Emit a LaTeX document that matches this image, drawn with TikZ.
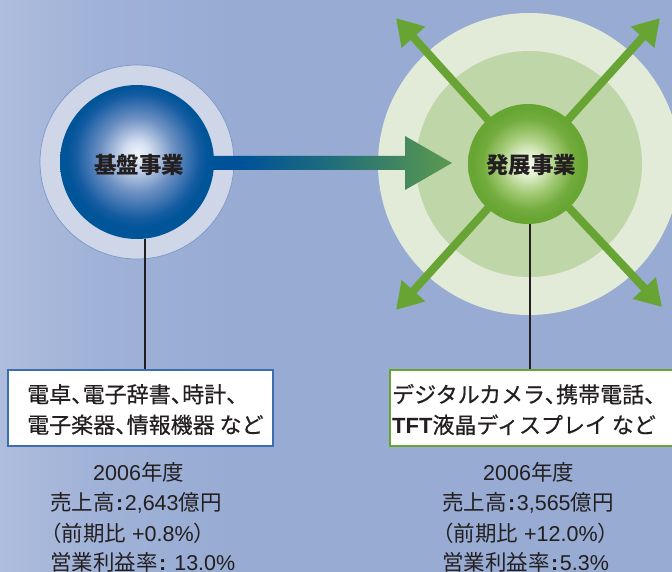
\documentclass[tikz,border=0pt]{standalone}
\usepackage{fontspec}
\setmainfont{Liberation Sans}
\newfontfamily\jp{Noto Sans CJK JP}
\newfontfamily\jpm[FakeBold=0.5]{Noto Sans CJK JP}
\usetikzlibrary{arrows.meta}
\newcommand{\jt}[1]{{\jp #1}}
\newcommand{\jtm}[1]{{\jpm #1}}
\newcommand{\tc}{、\hspace{-10.5pt}}
\definecolor{bgl}{RGB}{174,189,221}
\definecolor{bgm}{RGB}{160,178,215}
\definecolor{bgr}{RGB}{151,171,211}
\definecolor{lringc}{RGB}{206,214,232}
\definecolor{lringb}{RGB}{125,152,200}
\definecolor{routc}{RGB}{226,234,216}
\definecolor{rmidc}{RGB}{191,214,169}
\definecolor{agreen}{RGB}{104,164,52}
\definecolor{arA}{RGB}{0,82,152}
\definecolor{arB}{RGB}{35,112,120}
\definecolor{arC}{RGB}{92,154,76}
\definecolor{bb0}{RGB}{240,243,250}
\definecolor{bb1}{RGB}{212,222,240}
\definecolor{bb2}{RGB}{110,145,195}
\definecolor{bb3}{RGB}{22,92,162}
\definecolor{bb4}{RGB}{0,84,152}
\definecolor{gb0}{RGB}{248,250,240}
\definecolor{gb1}{RGB}{225,238,205}
\definecolor{gb2}{RGB}{165,203,120}
\definecolor{gb3}{RGB}{115,172,62}
\definecolor{gb4}{RGB}{104,166,52}
\definecolor{txt}{RGB}{35,31,32}
\definecolor{lboxb}{RGB}{60,110,175}
\pgfdeclarehorizontalshading{bgshade}{100bp}{color(0bp)=(bgl); color(25bp)=(bgl); color(32bp)=(bgm); color(43bp)=(bgr); color(100bp)=(bgr)}
\pgfdeclarehorizontalshading{arrowshade}{100bp}{color(0bp)=(arA); color(25bp)=(arA); color(42bp)=(arA); color(57bp)=(arB); color(75bp)=(arC); color(100bp)=(arC)}
\pgfdeclareradialshading{bball}{\pgfpoint{0bp}{3bp}}{color(0bp)=(bb0); color(4bp)=(bb1); color(12bp)=(bb2); color(20bp)=(bb3); color(23bp)=(bb4); color(50bp)=(bb4)}
\pgfdeclareradialshading{gball}{\pgfpoint{0bp}{0bp}}{color(0bp)=(gb0); color(5bp)=(gb1); color(12bp)=(gb2); color(19bp)=(gb3); color(23bp)=(gb4); color(50bp)=(gb4)}
\begin{document}
\begin{tikzpicture}[x=1pt,y=-1pt,
  ring/.style={circle, inner sep=0pt},
  garrow/.style={draw=agreen, line width=8pt, -{Triangle[length=26pt,width=30pt]}},
  conn/.style={draw=txt, line width=1.5pt},
  boxstyle/.style={fill=white, line width=1.1pt, minimum width=#1, minimum height=76pt, inner sep=0pt},
  boxtext/.style={anchor=west, align=left, text=txt, inner sep=0pt, font=\fontsize{22}{30.5}\selectfont},
  figtext/.style={anchor=west, text=txt, inner sep=0pt, font=\fontsize{21.5}{26}\selectfont},
  balllabel/.style={text=txt, font=\jp\bfseries\fontsize{22.5}{26}\selectfont}
]
\useasboundingbox (0,0) rectangle (672,572);
\begin{scope}
\clip (0,0) rectangle (672,572);
\shade[shading=bgshade] (0,0) rectangle (672,572);

% rings
\node[ring, minimum size=194pt, fill=lringc, draw=lringb, line width=0.7pt] (lring) at (137,162) {};
\node[ring, minimum size=302pt, fill=routc] (rout) at (529,164) {};
\node[ring, minimum size=226pt, fill=rmidc] (rmid) at (529,164) {};

% diagonal arrows
\coordinate (tl) at (396,18);
\coordinate (tr) at (660,18);
\coordinate (bl) at (396,310);
\coordinate (br) at (662,307);
\coordinate (gc) at (528,164);
\draw[garrow] (gc) -- (tl);
\draw[garrow] (gc) -- (tr);
\draw[garrow] (gc) -- (bl);
\draw[garrow] (gc) -- (br);

% main arrow
\coordinate (lc) at (137,163);
\coordinate (mtip) at (452,163);
\shade[shading=arrowshade] ([yshift=7pt]lc) -- ([xshift=-47pt,yshift=7pt]mtip) -- ([xshift=-47pt,yshift=27pt]mtip) -- (mtip) -- ([xshift=-47pt,yshift=-27pt]mtip) -- ([xshift=-47pt,yshift=-7pt]mtip) -- ([yshift=-7pt]lc) -- cycle;

% balls
\node[ring, minimum size=154pt, shading=bball] (lball) at (137,162) {};
\node[ring, minimum size=120pt, shading=gball] (gball) at (528,164) {};
\node[balllabel] (llab) at (139,165) {基盤事業};
\node[balllabel] (rlab) at (531,165) {発展事業};

% boxes
\node[boxstyle=265pt, draw=lboxb] (lbox) at (140.5,408) {};
\node[boxstyle=300pt, draw=agreen] (rbox) at (540,408) {};
\node[boxtext] (ltxt) at (27,409.5) {\jtm{電卓\tc 電子辞書\tc 時計、}\\\jtm{電子楽器\tc 情報機器 など}};
\node[boxtext] (rtxt) at (392,409.5) {\jtm{デジタルカメラ\tc 携帯電話、}\\{\bfseries TFT}\jtm{液晶ディスプレイ など}};

% connectors
\draw[conn] (lball.-84) -- (lball.-84 |- lbox.north);
\draw[conn] (gball.-88) -- (gball.-88 |- rbox.north);

% figures
\node[figtext] (l1) at (93,472.5) {2006\jt{年度}};
\node[figtext] (l2) at (50,502.5) {\jt{売上高}\hspace{1.5pt}\textbf{:}\hspace{1.5pt}2,643\jt{億円}};
\node[figtext] (l3) at (40,533) {\jt{（前期比} +0.8\%\jt{）}};
\node[figtext] (l4) at (50,562.5) {\jt{営業利益率}\hspace{1.5pt}\textbf{:} 13.0\%};
\node[figtext] (r1) at (483,472.5) {2006\jt{年度}};
\node[figtext] (r2) at (442,502.5) {\jt{売上高}\hspace{1.5pt}\textbf{:}\hspace{1.5pt}3,565\jt{億円}};
\node[figtext] (r3) at (432,533) {\jt{（前期比} +12.0\%\jt{）}};
\node[figtext] (r4) at (442,562.5) {\jt{営業利益率}\hspace{1.5pt}\textbf{:}\hspace{1.5pt}5.3\%};
\end{scope}
\end{tikzpicture}
\end{document}
